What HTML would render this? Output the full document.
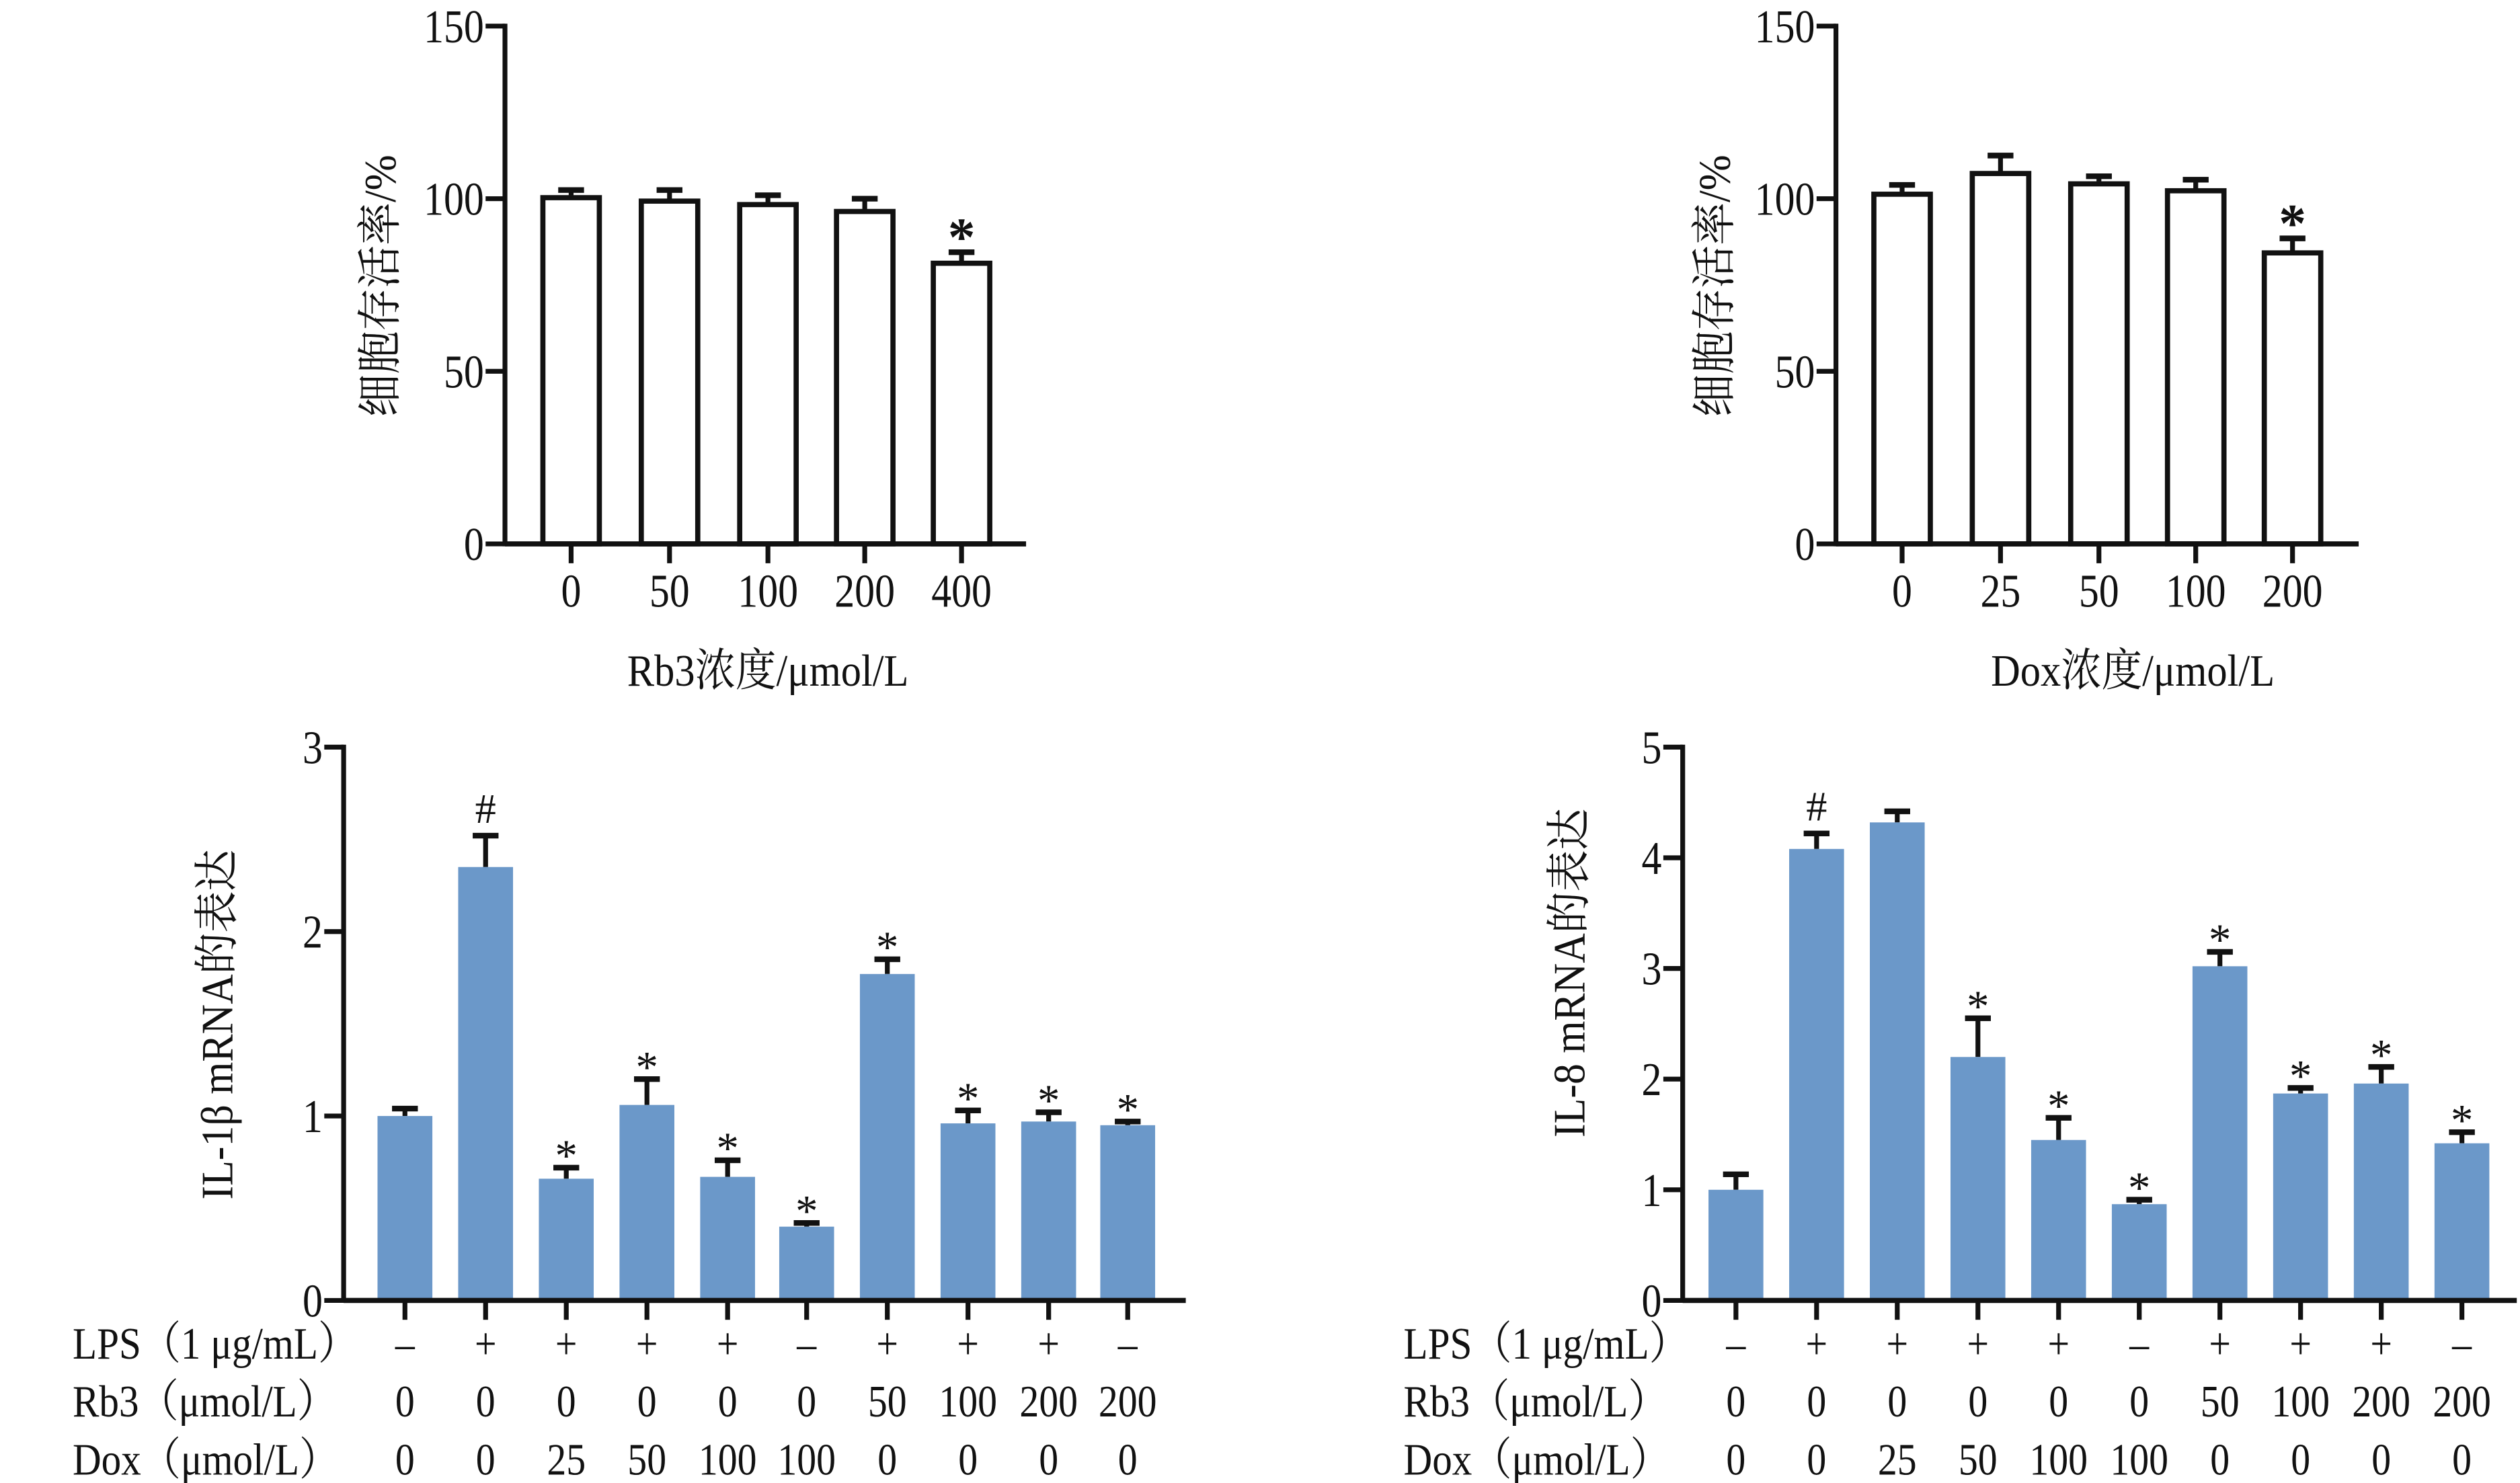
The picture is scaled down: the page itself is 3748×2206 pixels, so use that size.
<!DOCTYPE html>
<html><head><meta charset="utf-8"><style>
html,body{margin:0;padding:0;background:#fff;}
svg{display:block;}
text{font-family:"Liberation Serif","Noto Serif CJK SC",serif;fill:#111;}
</style></head><body>
<svg id="s" width="3748" height="2206" viewBox="0 0 1562 919" xmlns="http://www.w3.org/2000/svg"></svg>
<script>
const s=document.getElementById('s');
let h='';
function L(x1,y1,x2,y2,w){h+=`<line x1="${x1}" y1="${y1}" x2="${x2}" y2="${y2}" stroke="#111" stroke-width="${w||3}"/>`;}
function T(x,y,t,sz,anc,extra,sx){sx=sx||0.86;h+=`<text x="${x}" y="${y}" font-size="${sz||24}" text-anchor="${anc||'middle'}" ${extra||''} transform="translate(${x} ${y}) scale(${sx} 1) translate(${-x} ${-y})">${t}</text>`;}
function chart(o){
  const {ax,y0,ytop,xend,max,ticks,centers,vals,errs,bw,fill,marks,tickLen}=o;
  const k=(y0-ytop)/max;
  for(let i=0;i<vals.length;i++){
    const c=centers[i],yv=y0-vals[i]*k,ye=y0-(vals[i]+errs[i])*k;
    L(c,yv,c,ye,3);L(c-8,ye,c+8,ye,3.5);
    if(fill) h+=`<rect x="${c-bw/2}" y="${yv}" width="${bw}" height="${y0-yv}" fill="#6b98c9"/>`;
    else h+=`<rect x="${c-bw/2+1.5}" y="${yv+1.5}" width="${bw-3}" height="${y0-yv-1.5}" fill="none" stroke="#111" stroke-width="3.2"/>`;
    if(marks[i]=='★') T(c,ye+2,'*',34,'middle','font-weight="bold"',1);
    else if(marks[i]=='#') T(c,ye-8,'#',26,'middle','',1);
    else if(marks[i]) T(c,ye+2,'*',28,'middle','',1);
    L(c,y0,c,y0+tickLen,3);
  }
  L(ax,ytop-1.5,ax,y0+1.5,3);L(ax,y0,xend,y0,3.2);
  ticks.forEach(t=>{const y=y0-t*k;L(ax-12,y,ax,y,3);T(ax-13,y+10,t,29,'end');});
}
chart({ax:313,y0:337,ytop:16,xend:636,max:150,ticks:[0,50,100,150],centers:[354,415,476,536,596],vals:[101,100,99,97,82],errs:[1.5,2.5,2,3,2.5],bw:38,fill:false,marks:['','','','','★'],tickLen:12});
[0,50,100,200,400].forEach((t,i)=>T([354,415,476,536,596][i],376,t,29));
T(476,425,'Rb3浓度/μmol/L',28,'middle','',0.9);
h+=`<text x="0" y="0" font-size="28" text-anchor="middle" transform="translate(245 177) rotate(-90) scale(0.95 1)">细胞存活率/%</text>`;
chart({ax:1138,y0:337,ytop:16,xend:1462,max:150,ticks:[0,50,100,150],centers:[1179,1240,1301,1361,1421],vals:[102,108,105,103,85],errs:[2,4.5,1.5,2.5,3.5],bw:38,fill:false,marks:['','','','','★'],tickLen:12});
[0,25,50,100,200].forEach((t,i)=>T([1179,1240,1301,1361,1421][i],376,t,29));
T(1322,425,'Dox浓度/μmol/L',28,'middle','',0.9);
h+=`<text x="0" y="0" font-size="28" text-anchor="middle" transform="translate(1072 177) rotate(-90) scale(0.95 1)">细胞存活率/%</text>`;
const cL=[251,301,351,401,451,500,550,600,650,699];
chart({ax:213,y0:806,ytop:463,xend:735,max:3,ticks:[0,1,2,3],centers:cL,vals:[1.0,2.35,0.66,1.06,0.67,0.4,1.77,0.96,0.97,0.95],errs:[0.04,0.17,0.06,0.14,0.09,0.02,0.08,0.07,0.05,0.02],bw:34,fill:true,marks:['','#','*','*','*','*','*','*','*','*'],tickLen:12});
h+=`<text x="0" y="0" font-size="28" text-anchor="middle" transform="translate(144 635) rotate(-90) scale(0.92 1)">IL-1β mRNA的表达</text>`;
const lps=['–','+','+','+','+','–','+','+','+','–'];
const rb=[0,0,0,0,0,0,50,100,200,200], dx=[0,0,25,50,100,100,0,0,0,0];
function rows(x0,cs){
  T(x0,842,'LPS（1 μg/mL）',28,'start','',0.88);T(x0,878,'Rb3（μmol/L）',28,'start','',0.88);T(x0,914,'Dox（μmol/L）',28,'start','',0.88);
  cs.forEach((c,i)=>{T(c,842,lps[i],28);T(c,878,rb[i],28);T(c,914,dx[i],28);});
}
rows(45,cL);
const cR=[1076,1126,1176,1226,1276,1326,1376,1426,1476,1526];
chart({ax:1043,y0:806,ytop:463,xend:1560,max:5,ticks:[0,1,2,3,4,5],centers:cR,vals:[1.0,4.08,4.32,2.2,1.45,0.87,3.02,1.87,1.96,1.42],errs:[0.14,0.14,0.1,0.35,0.2,0.04,0.13,0.05,0.15,0.1],bw:34,fill:true,marks:['','#','','*','*','*','*','*','*','*'],tickLen:12});
h+=`<text x="0" y="0" font-size="28" text-anchor="middle" transform="translate(982 603) rotate(-90) scale(0.92 1)">IL-8 mRNA的表达</text>`;
rows(870,cR);
s.innerHTML=h;
</script>
</body></html>
